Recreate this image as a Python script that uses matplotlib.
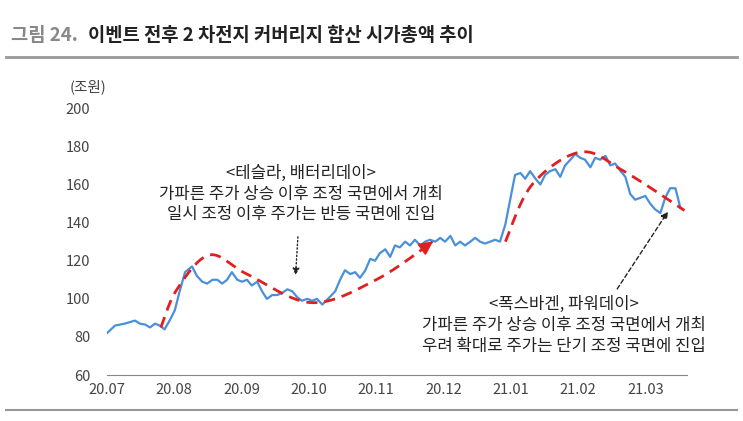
import numpy as np
import matplotlib
matplotlib.use("Agg")
import matplotlib.pyplot as plt

plt.rcParams["font.family"] = ["Noto Sans CJK KR", "Noto Sans CJK JP", "Noto Sans CJK SC", "DejaVu Sans"]

# time position (1 unit = 0.8 month from 2020.07) and market cap (조원)
x_pos = [0.00,0.15,0.33,0.52,0.61,0.71,0.80,0.89,0.98,1.07,1.17,1.26,1.35,1.45,1.58,1.67,1.77,1.86,1.96,2.05,2.14,2.23,2.32,2.42,2.51,2.60,2.69,2.79,2.88,2.97,3.07,3.16,3.25,3.35,3.44,3.53,3.62,3.72,3.81,3.90,4.00,4.14,4.24,4.33,4.42,4.52,4.61,4.70,4.80,4.89,4.98,5.07,5.17,5.26,5.35,5.44,5.54,5.63,5.72,5.82,5.91,6.00,6.10,6.19,6.28,6.38,6.47,6.56,6.65,6.75,6.84,6.93,7.02,7.12,7.21,7.30,7.40,7.49,7.58,7.68,7.77,7.86,7.96,8.05,8.14,8.23,8.33,8.42,8.51,8.61,8.70,8.79,8.88,8.98,9.07,9.16,9.26,9.35,9.44,9.54,9.63,9.72,9.81,9.91,10.00,10.09,10.18,10.28,10.37,10.46,10.56,10.65]
values = [82,86,87,88.6,87,86.5,85,87,86,84,89,94,104,114,117,112,109,108,110,110,108,110,114,110,109,110,107,109,104,100,102,102,103,105,104,101,99,100,99,100,97,101,104,110,115,113,114,111,115,121,120,124,126,122,128,127,130,128,131,128,130,131,130,132,130,133,128,130,128,130,132,130,129,130,131,130,139,152,165,166,163,167,163,160,165,167,168,164,170,173,176,174,173,169,174,173,175,170,171,167,164,155,152,153,154,150,147,145,153,158,158,148]
xticks = [0, 1.25, 2.5, 3.75, 5.0, 6.25, 7.5, 8.75, 10.0]
xlabels = ["20.07","20.08","20.09","20.10","20.11","20.12","21.01","21.02","21.03"]
# trend guide points
trend1_x = [1.0,1.3,1.9,2.6,3.8,5.0,6.1]
trend1_y = [85,105,123,113,98,110,131]
trend2_x = [7.4,7.9,8.8,9.6,10.8]
trend2_y = [130,160,177,167,145]

def catmull(xs, ys, n=30):
    P = np.column_stack([xs, ys]).astype(float)
    P = np.vstack([P[0], P, P[-1]])
    out = []
    for i in range(1, len(P) - 2):
        p0, p1, p2, p3 = P[i-1], P[i], P[i+1], P[i+2]
        for t in np.linspace(0, 1, n, endpoint=False):
            out.append(0.5*((2*p1) + (-p0+p2)*t + (2*p0-5*p1+4*p2-p3)*t**2 + (-p0+3*p1-3*p2+p3)*t**3))
    out.append(P[-2])
    return np.array(out)

fig = plt.figure(figsize=(7.43, 4.21), dpi=100)
ax = fig.add_axes([0.144, 0.109, 0.781, 0.634])
ax.plot(x_pos, values, color="#4a90d9", lw=1.6)

for tx, ty in [(trend1_x, trend1_y), (trend2_x, trend2_y)]:
    c = catmull(tx, ty)
    ax.plot(c[:-3, 0], c[:-3, 1], color="#e02020", lw=2, ls=(0, (4, 2.5)))
    ax.annotate("", xy=tuple(c[-1]), xytext=tuple(c[-6]),
                arrowprops=dict(arrowstyle="-|>,head_length=0.8,head_width=0.4", color="#e02020", lw=1.5))

ax.set_xlim(0, 10.78)
ax.set_ylim(60, 200)
ax.set_yticks(range(60, 201, 20))
ax.set_xticks(xticks)
ax.set_xticklabels(xlabels)
for s in ["top", "right", "left"]:
    ax.spines[s].set_visible(False)
ax.spines["bottom"].set_color("#888888")
ax.tick_params(axis="both", length=0, labelsize=10.5, colors="#444444", pad=6)
ax.tick_params(axis="y", pad=12)

ax.text(3.6, 155, "<테슬라, 배터리데이>\n가파른 주가 상승 이후 조정 국면에서 개최\n일시 조정 이후 주가는 반등 국면에 진입",
        ha="center", va="center", fontsize=12, linespacing=1.3, color="#222222")
ax.annotate("", xy=(3.5, 111), xytext=(3.55, 134),
            arrowprops=dict(arrowstyle="-|>", color="#222222", lw=1, ls=":"))
ax.text(8.48, 86, "<폭스바겐, 파워데이>\n가파른 주가 상승 이후 조정 국면에서 개최\n우려 확대로 주가는 단기 조정 국면에 진입",
        ha="center", va="center", fontsize=12, linespacing=1.3, color="#222222")
ax.annotate("", xy=(10.45, 147), xytext=(9.45, 104),
            arrowprops=dict(arrowstyle="-|>", color="#222222", lw=1, ls=(0, (3, 2))))

fig.text(0.118, 0.795, "(조원)", fontsize=10.5, color="#444444", ha="center", va="center")
fig.text(0.015, 0.915, "그림 24.", fontsize=13.5, color="#888888", fontweight="bold", va="center")
fig.text(0.118, 0.915, "이벤트 전후 2 차전지 커버리지 합산 시가총액 추이", fontsize=13.5, color="#222222", fontweight="bold", va="center")
fig.add_artist(plt.Line2D([0.008, 0.992], [0.865, 0.865], color="#999999", lw=2))
fig.add_artist(plt.Line2D([0.008, 0.992], [0.025, 0.025], color="#999999", lw=1.5))
fig.savefig("out.png", dpi=100)
